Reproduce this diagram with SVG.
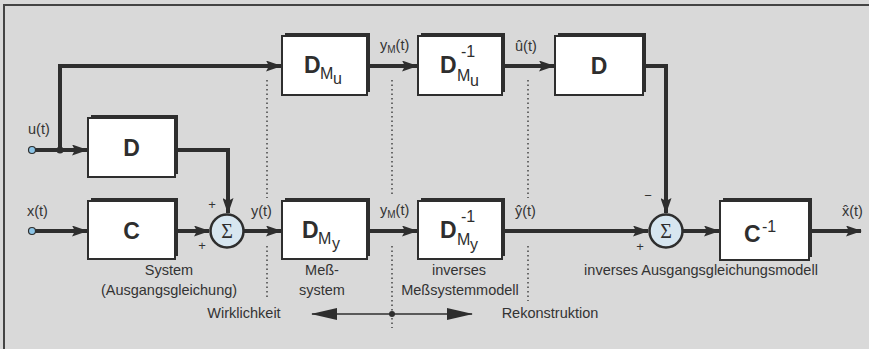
<svg xmlns="http://www.w3.org/2000/svg" width="869" height="349" viewBox="0 0 869 349">
<defs>
<marker id="ah" markerWidth="16" markerHeight="11" refX="15" refY="5.5" orient="auto" markerUnits="userSpaceOnUse"><path d="M0,0 L16,5.5 L0,11 L3,5.5 Z" fill="#2e2e2e"/></marker>
<marker id="ahs" markerWidth="26" markerHeight="12" refX="25" refY="6" orient="auto-start-reverse" markerUnits="userSpaceOnUse"><path d="M0,0 L26,6 L0,12 Z" fill="#2e2e2e"/></marker>
</defs>
<style>
.bg{fill:#d9d9d9}
.frame{fill:none;stroke:#444;stroke-width:2}
.shadow{fill:#2e2e2e}
.box{fill:#fff;stroke:#2e2e2e;stroke-width:2}
.w{fill:none;stroke:#2e2e2e;stroke-width:4}
.dot{fill:none;stroke:#444;stroke-width:1.5;stroke-dasharray:1.5 3}
.sum{fill:#d7e6f0;stroke:#2e2e2e;stroke-width:2.5}
.lbl{font-family:"Liberation Sans",Arial,sans-serif;font-size:14.5px;fill:#333}
.big{font-family:"Liberation Sans",Arial,sans-serif;font-size:23px;font-weight:bold;fill:#2e2e2e}
.sub{font-family:"Liberation Sans",Arial,sans-serif;font-size:16px;fill:#2e2e2e}
.sig{font-family:"Liberation Serif","Times New Roman",serif;font-size:20px;fill:#2e2e2e}
.pm{font-family:"Liberation Sans",Arial,sans-serif;font-size:13px;fill:#333}
.term{fill:#8cc4e6;stroke:#2e2e2e;stroke-width:1.2}
</style>
<rect class="bg" x="0" y="0" width="869" height="349"/>
<path class="frame" d="M4,349 L4,5 L869,5"/>

<g id="connectors">
<path class="w" d="M34,150 L87,150" marker-end="url(#ah)"/>
<path class="w" d="M60,150 L60,66 L281,66" marker-end="url(#ah)"/>
<circle cx="60" cy="150" r="3.5" fill="#2e2e2e"/>
<path class="w" d="M175,150 L228,150 L228,213" marker-end="url(#ah)"/>
<path class="w" d="M34,231 L87,231" marker-end="url(#ah)"/>
<path class="w" d="M175,231 L209,231" marker-end="url(#ah)"/>
<path class="w" d="M244,231 L281,231" marker-end="url(#ah)"/>
<path class="w" d="M367,231 L417,231" marker-end="url(#ah)"/>
<path class="w" d="M367,66 L417,66" marker-end="url(#ah)"/>
<path class="w" d="M502,66 L554,66" marker-end="url(#ah)"/>
<path class="w" d="M643,66 L666,66 L666,213" marker-end="url(#ah)"/>
<path class="w" d="M502,231 L648,231" marker-end="url(#ah)"/>
<path class="w" d="M683,231 L719,231" marker-end="url(#ah)"/>
<path class="w" d="M809,231 L861,231" marker-end="url(#ah)"/>
<circle class="term" cx="32" cy="150" r="3.5"/>
<circle class="term" cx="32" cy="231" r="3.5"/>
<path class="dot" d="M267,80 L267,198 M267,246 L267,300"/>
<path class="dot" d="M392,80 L392,197 M392,246 L392,328"/>
<path class="dot" d="M528,80 L528,198 M528,246 L528,301"/>
<path fill="none" stroke="#2e2e2e" stroke-width="1.5" d="M312,314 L472,314" marker-start="url(#ahs)" marker-end="url(#ahs)"/>
<circle cx="392" cy="314" r="3" fill="#2e2e2e"/>
</g>

<g id="D1">
<rect class="shadow" x="91" y="115" width="87" height="59"/>
<rect class="box" x="88" y="118" width="87" height="59"/>
<text class="big" x="131.5" y="156" text-anchor="middle">D</text>
</g>
<g id="C">
<rect class="shadow" x="91" y="198" width="87" height="58"/>
<rect class="box" x="88" y="201" width="87" height="58"/>
<text class="big" x="131.5" y="239" text-anchor="middle">C</text>
</g>
<g id="sum1">
<circle class="sum" cx="227" cy="231" r="16.5"/>
<text class="sig" x="227" y="238" text-anchor="middle">Σ</text>
<text class="pm" x="212" y="209" text-anchor="middle">+</text>
<text class="pm" x="202" y="250" text-anchor="middle">+</text>
</g>
<g id="DMu">
<rect class="shadow" x="285" y="33" width="85" height="59"/>
<rect class="box" x="282" y="36" width="85" height="59"/>
<text class="big" x="304" y="73">D</text>
<text class="sub" x="320" y="79">M</text>
<text class="sub" x="333" y="84">u</text>
</g>
<g id="DMuinv">
<rect class="shadow" x="421" y="33" width="84" height="59"/>
<rect class="box" x="418" y="36" width="84" height="59"/>
<text class="big" x="440" y="73">D</text>
<text class="sub" x="461" y="57">-1</text>
<text class="sub" x="457" y="81">M</text>
<text class="sub" x="470" y="86">u</text>
</g>
<g id="D2">
<rect class="shadow" x="558" y="33" width="88" height="59"/>
<rect class="box" x="555" y="36" width="88" height="59"/>
<text class="big" x="599" y="74" text-anchor="middle">D</text>
</g>
<g id="DMy">
<rect class="shadow" x="285" y="198" width="85" height="58"/>
<rect class="box" x="282" y="201" width="85" height="58"/>
<text class="big" x="302" y="238">D</text>
<text class="sub" x="318" y="244">M</text>
<text class="sub" x="332" y="249">y</text>
</g>
<g id="DMyinv">
<rect class="shadow" x="421" y="198" width="84" height="58"/>
<rect class="box" x="418" y="201" width="84" height="58"/>
<text class="big" x="440" y="238">D</text>
<text class="sub" x="461" y="222">-1</text>
<text class="sub" x="457" y="245">M</text>
<text class="sub" x="470" y="250">y</text>
</g>
<g id="sum2">
<circle class="sum" cx="666" cy="231" r="16.5"/>
<text class="sig" x="666" y="238" text-anchor="middle">Σ</text>
<text class="pm" x="648" y="200" text-anchor="middle">−</text>
<text class="pm" x="640" y="251" text-anchor="middle">+</text>
</g>
<g id="Cinv">
<rect class="shadow" x="723" y="198" width="89" height="59"/>
<rect class="box" x="720" y="201" width="89" height="59"/>
<text class="big" x="744" y="242">C</text>
<text class="sub" x="762" y="232">-1</text>
</g>

<g id="labels">
<text class="lbl" x="28" y="134">u(t)</text>
<text class="lbl" x="27" y="216">x(t)</text>
<text class="lbl" x="251" y="216">y(t)</text>
<text class="lbl" x="380" y="50">y<tspan font-size="10" dy="3">M</tspan><tspan dy="-3">(t)</tspan></text>
<text class="lbl" x="380" y="215">y<tspan font-size="10" dy="3">M</tspan><tspan dy="-3">(t)</tspan></text>
<text class="lbl" x="515" y="51">û(t)</text>
<text class="lbl" x="515" y="216">ŷ(t)</text>
<text class="lbl" x="842" y="216">x̂(t)</text>
<text class="lbl" x="169" y="275" text-anchor="middle">System</text>
<text class="lbl" x="169" y="295" text-anchor="middle">(Ausgangsgleichung)</text>
<text class="lbl" x="244" y="318" text-anchor="middle">Wirklichkeit</text>
<text class="lbl" x="322" y="275" text-anchor="middle">Meß-</text>
<text class="lbl" x="322" y="295" text-anchor="middle">system</text>
<text class="lbl" x="459" y="275" text-anchor="middle">inverses</text>
<text class="lbl" x="460" y="295" text-anchor="middle">Meßsystemmodell</text>
<text class="lbl" x="550" y="318" text-anchor="middle">Rekonstruktion</text>
<text class="lbl" x="701" y="275" text-anchor="middle">inverses Ausgangsgleichungsmodell</text>
</g>
</svg>
